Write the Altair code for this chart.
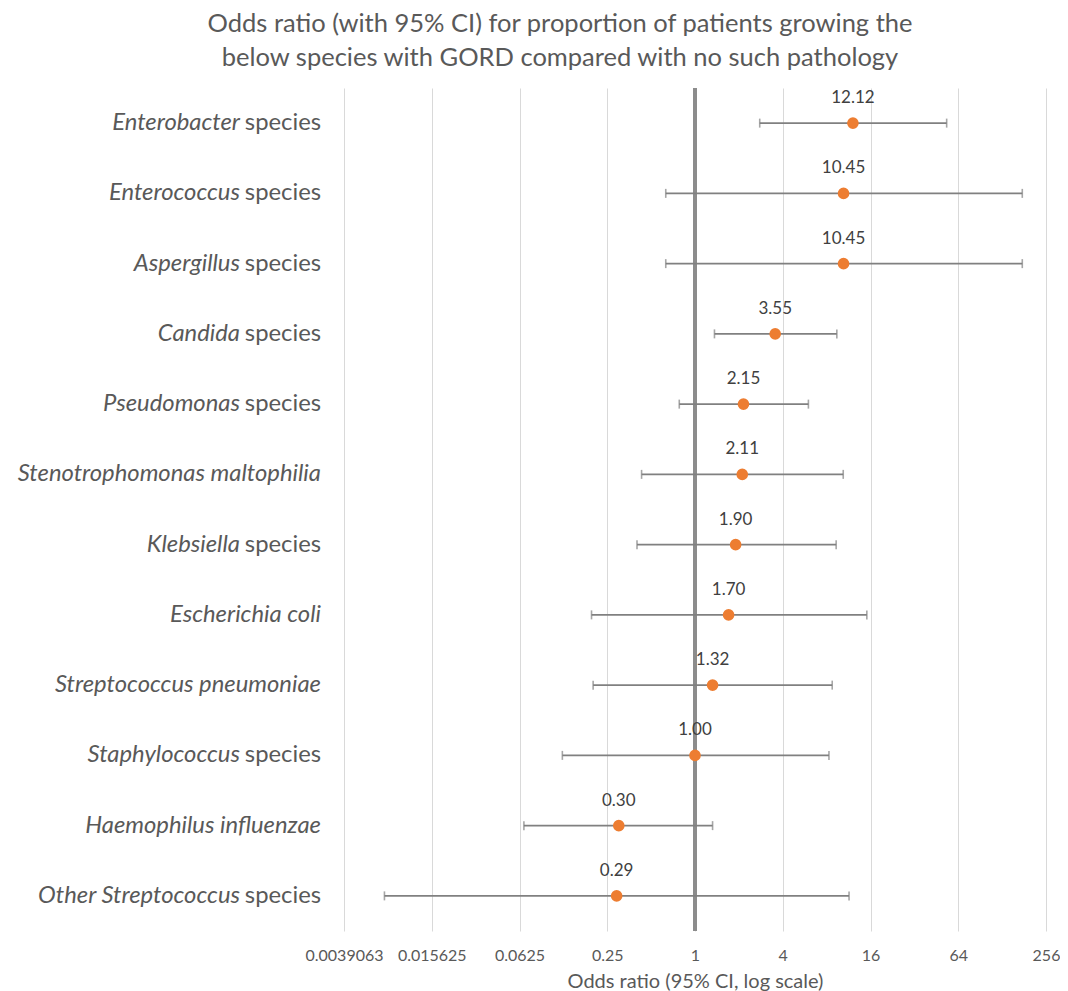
import altair as alt
import pandas as pd

# ---- data ----
italic_part = [
    "Enterobacter", "Enterococcus", "Aspergillus", "Candida", "Pseudomonas",
    "Stenotrophomonas maltophilia", "Klebsiella", "Escherichia coli",
    "Streptococcus pneumoniae", "Staphylococcus", "Haemophilus influenzae",
    "Other Streptococcus",
]
roman_part = [
    " species", " species", " species", " species", " species",
    "", " species", "", "", " species", "", " species",
]
odds_ratio = [12.12, 10.45, 10.45, 3.55, 2.15, 2.11, 1.90, 1.70, 1.32, 1.00, 0.30, 0.29]
ci_low = [2.78, 0.63, 0.63, 1.36, 0.78, 0.43, 0.40, 0.195, 0.20, 0.123, 0.067, 0.0074]
ci_high = [53.3, 176.0, 176.0, 9.4, 6.0, 10.4, 9.3, 15.1, 8.74, 8.3, 1.32, 11.4]
value_labels = ["12.12", "10.45", "10.45", "3.55", "2.15", "2.11", "1.90", "1.70",
                "1.32", "1.00", "0.30", "0.29"]

tick_values = [2 ** -8, 2 ** -6, 2 ** -4, 2 ** -2, 1, 4, 16, 64, 256]
tick_labels = ["0.0039063", "0.015625", "0.0625", "0.25", "1", "4", "16", "64", "256"]

title_lines = [
    "Odds ratio (with 95% CI) for proportion of patients growing the",
    "below species with GORD compared with no such pathology",
]
x_title = "Odds ratio (95% CI, log scale)"

# ---- table ----
keys = [a + b for a, b in zip(italic_part, roman_part)]
df = pd.DataFrame({
    "key": keys,
    "ital": italic_part,
    "rom": roman_part,
    "or": odds_ratio,
    "lo": ci_low,
    "hi": ci_high,
    "lab": value_labels,
    "has_rom": [1 if r else 0 for r in roman_part],
})

FONT = "Lato"
GREY_TXT = "#595959"
BAR = "#808080"
LBL_SIZE = 23.8

label_expr = " : ".join(
    f"abs(datum.value - {v}) < {v * 0.01} ? '{l}'" for v, l in zip(tick_values, tick_labels)
) + " : ''"

xscale = alt.Scale(type="log", base=2, domain=[2 ** -8, 256], nice=False)
yenc = alt.Y("key:N", sort=keys, axis=None,
             scale=alt.Scale(paddingInner=0, paddingOuter=0))

base = alt.Chart(df)

grid = base.mark_point(opacity=0).encode(
    x=alt.X("or:Q", scale=xscale, title=x_title,
            axis=alt.Axis(values=tick_values, labelExpr=label_expr, grid=True,
                          gridColor="#d9d9d9", gridWidth=1, domain=False, ticks=False,
                          labelOverlap=False, labelBound=False, labelFlush=False,
                          labelFont=FONT, labelFontSize=16, labelColor=GREY_TXT,
                          labelPadding=16, titleFont=FONT, titleFontSize=20,
                          titleFontWeight="normal", titleColor=GREY_TXT,
                          titlePadding=8)),
    y=yenc,
)

one_line = base.mark_rule(color="#8c8c8c", strokeWidth=3).encode(x=alt.datum(1))

ci = base.mark_rule(color=BAR, strokeWidth=1.6).encode(
    x=alt.X("lo:Q", scale=xscale), x2="hi:Q", y=yenc)

cap_lo = base.mark_tick(color=BAR, thickness=1.6, size=9, orient="vertical").encode(
    x=alt.X("lo:Q", scale=xscale), y=yenc)
cap_hi = base.mark_tick(color=BAR, thickness=1.6, size=9, orient="vertical").encode(
    x=alt.X("hi:Q", scale=xscale), y=yenc)

pts = base.mark_circle(color="#ED7D31", size=135, opacity=1).encode(
    x=alt.X("or:Q", scale=xscale), y=yenc)

vals = base.mark_text(font=FONT, fontSize=17, color="#404040", dy=-25,
                      baseline="middle").encode(
    x=alt.X("or:Q", scale=xscale), y=yenc, text="lab:N")

rom_txt = base.transform_filter("datum.has_rom == 1").mark_text(
    font=FONT, fontSize=LBL_SIZE, color=GREY_TXT, align="right", baseline="middle").encode(
    x=alt.value(-23), y=yenc, text="rom:N")

ital_suffix = base.transform_filter("datum.has_rom == 1").mark_text(
    font=FONT, fontSize=LBL_SIZE, fontStyle="italic", color=GREY_TXT, align="right",
    baseline="middle", dx=-81).encode(
    x=alt.value(-23), y=yenc, text="ital:N")

ital_only = base.transform_filter("datum.has_rom == 0").mark_text(
    font=FONT, fontSize=LBL_SIZE, fontStyle="italic", color=GREY_TXT, align="right",
    baseline="middle").encode(
    x=alt.value(-23), y=yenc, text="ital:N")

chart = alt.layer(
    grid, one_line, ci, cap_lo, cap_hi, pts, vals, rom_txt, ital_suffix, ital_only
).properties(
    width=702, height=843,
    title=alt.TitleParams(text=title_lines, font=FONT, fontSize=25.5,
                          fontWeight="normal", color=GREY_TXT, anchor="middle",
                          dx=-135, offset=15, lineHeight=34),
    autosize=alt.AutoSizeParams(type="none"),
    padding={"left": 336, "top": 80, "right": 14, "bottom": 61},
).configure_view(stroke=None)

chart.save("out.html", embed_options={"renderer": "svg", "actions": False})
